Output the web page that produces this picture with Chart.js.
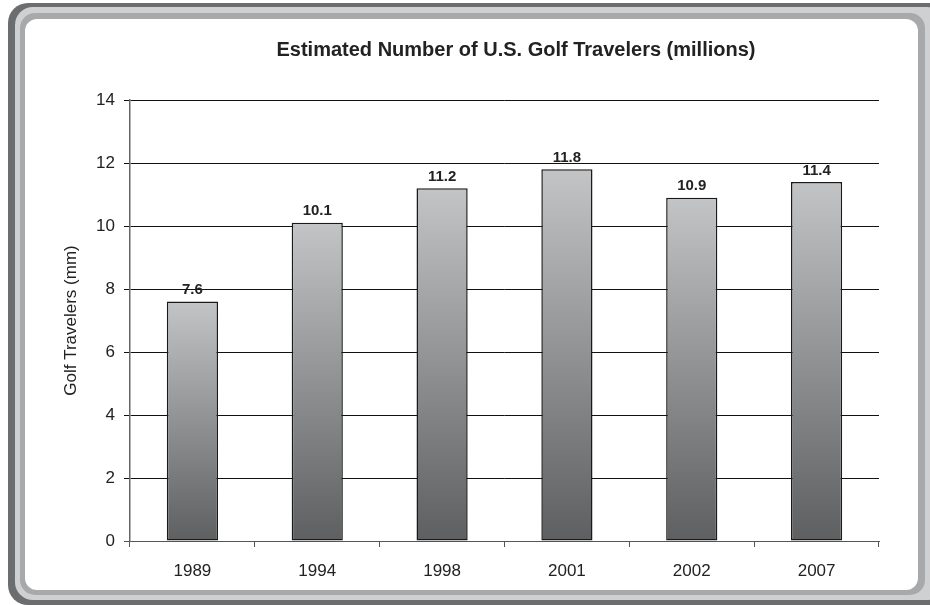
<!DOCTYPE html>
<html lang="en">
<head>
  <meta charset="UTF-8" />
  <title>Golf Travelers</title>
  <script src="https://cdn.jsdelivr.net/npm/chart.js"></script>
  <style>
    html, body { margin: 0; padding: 0; background: #fff; overflow: hidden; }
    body { width: 930px; height: 605px; position: relative; font-family: "Liberation Sans", Arial, sans-serif; }
    .frame { position: absolute; }
    #outer { left: 8px; top: 3px; width: 940px; height: 602px; background: #6c6d6f; border-radius: 20px; }
    #light { left: 15px; top: 7px; width: 930px; height: 593px; background: #cfd0d2; border-radius: 18px; }
    #mid { left: 20px; top: 13px; width: 905px; height: 582px; background: #a8a9ab; border-radius: 15px; }
    #panel { left: 25px; top: 19px; width: 893px; height: 571px; background: #fff; border-radius: 12px; }
    #title { position: absolute; left: 516px; top: 38px; transform: translateX(-50%); white-space: nowrap;
             font: bold 20px "Liberation Sans", Arial, sans-serif; color: #222; }
    #wrap { position: absolute; left: 25px; top: 19px; width: 893px; height: 571px; }
  </style>
</head>
<body>
  <div class="frame" id="outer"></div>
  <div class="frame" id="light"></div>
  <div class="frame" id="mid"></div>
  <div class="frame" id="panel"></div>
  <div id="wrap"><canvas id="chart"></canvas></div>
  <div id="title">Estimated Number of U.S. Golf Travelers (millions)</div>

  <script>
    // chart data
    const years = ["1989", "1994", "1998", "2001", "2002", "2007"];
    const travelers = [7.6, 10.1, 11.2, 11.8, 10.9, 11.4];
    const yTicks = [0, 2, 4, 6, 8, 10, 12, 14];

    const FONT = "'Liberation Sans', Arial, sans-serif";

    // draws the bold value above each bar
    const valueLabels = {
      id: "valueLabels",
      afterDatasetsDraw(chart) {
        const ctx = chart.ctx;
        const meta = chart.getDatasetMeta(0);
        ctx.save();
        ctx.font = "bold 15px " + FONT;
        ctx.fillStyle = "#222";
        ctx.textAlign = "center";
        ctx.textBaseline = "bottom";
        meta.data.forEach((bar, i) => {
          ctx.fillText(travelers[i].toFixed(1), bar.x, bar.y - 4);
        });
        ctx.restore();
      }
    };

    function barFill(c) {
      const chart = c.chart;
      if (!chart.chartArea || !c.parsed) return "#999";
      const y = chart.scales.y;
      const g = chart.ctx.createLinearGradient(0, y.getPixelForValue(c.parsed.y), 0, y.getPixelForValue(0));
      g.addColorStop(0, "#c3c4c6");
      g.addColorStop(1, "#5e5f61");
      return g;
    }

    new Chart(document.getElementById("chart"), {
      type: "bar",
      data: {
        labels: years,
        datasets: [{
          data: travelers,
          backgroundColor: barFill,
          borderColor: "#1a1a1a",
          borderWidth: 1.5,
          borderSkipped: false,
          categoryPercentage: 1,
          barPercentage: 0.41
        }]
      },
      options: {
        responsive: true,
        maintainAspectRatio: false,
        animation: false,
        layout: { padding: { top: 81, right: 39, left: 0, bottom: 0 } },
        plugins: {
          legend: { display: false },
          tooltip: { enabled: false },
          title: { display: false }
        },
        scales: {
          x: {
            grid: {
              offset: true,
              drawOnChartArea: false,
              tickLength: 6,
              color: "#555"
            },
            border: { color: "#555", width: 1 },
            ticks: { color: "#222", font: { family: FONT, size: 17 }, padding: 14 },
            afterFit(s) { s.height = 49; }
          },
          y: {
            min: 0,
            max: 14,
            afterBuildTicks(s) { s.ticks = yTicks.map(v => ({ value: v })); },
            grid: {
              color: c => c.index === 0 ? "#555" : "#111",
              lineWidth: 1,
              tickLength: 6
            },
            border: { color: "#666", width: 1.5 },
            ticks: { color: "#222", font: { family: FONT, size: 17 }, padding: 9 },
            title: {
              display: true,
              text: "Golf Travelers (mm)",
              color: "#222",
              font: { family: FONT, size: 17 },
              padding: { top: 36, bottom: 0 }
            },
            afterFit(s) { s.width = 105; }
          }
        }
      },
      plugins: [valueLabels]
    });
  </script>
</body>
</html>
